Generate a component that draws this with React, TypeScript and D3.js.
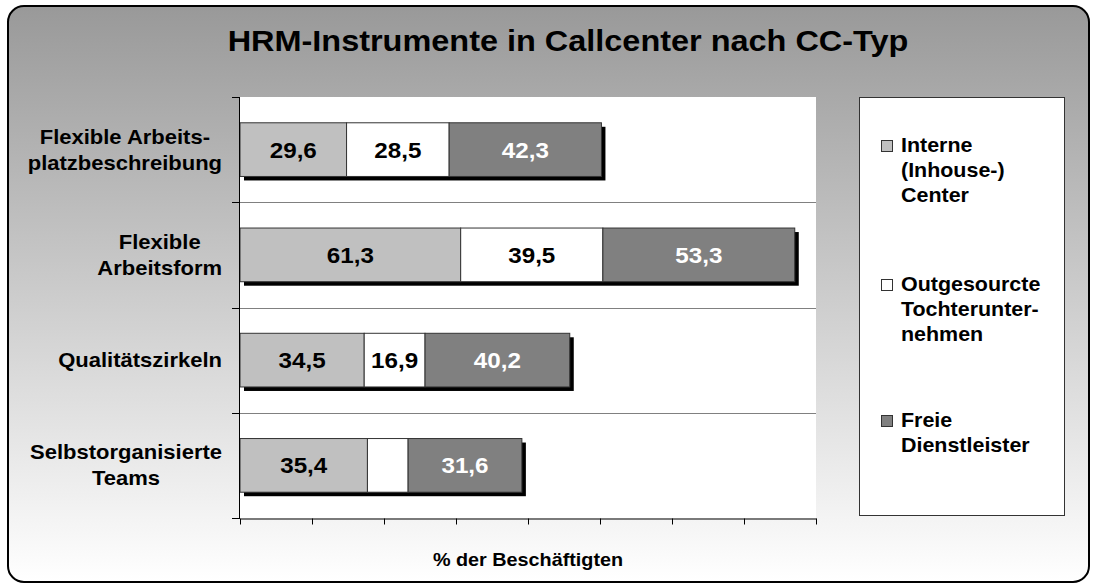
import * as d3 from "d3";
import { useEffect, useRef } from "react";

const title = "HRM-Instrumente in Callcenter nach CC-Typ";
const axisTitle = "% der Beschäftigten";

const categories = [
  "Flexible Arbeitsplatzbeschreibung",
  "Flexible Arbeitsform",
  "Qualitätszirkeln",
  "Selbstorganisierte Teams",
];
const categoryLines = [
  ["Flexible Arbeits-", "platzbeschreibung"],
  ["Flexible", "Arbeitsform"],
  ["Qualitätszirkeln"],
  ["Selbstorganisierte", "Teams"],
];

const seriesNames = ["Interne (Inhouse-) Center", "Outgesourcte Tochterunternehmen", "Freie Dienstleister"];
const legendLines = [
  ["Interne", "(Inhouse-)", "Center"],
  ["Outgesourcte", "Tochterunter-", "nehmen"],
  ["Freie", "Dienstleister"],
];

const interne = [29.6, 61.3, 34.5, 35.4];
const outgesourcte = [28.5, 39.5, 16.9, 11.3];
const freie = [42.3, 53.3, 40.2, 31.6];

const xTicks = [0, 20, 40, 60, 80, 100, 120, 140, 160];

const FONT = "'Liberation Sans', Arial, sans-serif";
// the original renders its Arial noticeably wider than true metrics
const SX = 1.1;

type Sel = d3.Selection<any, any, any, any>;

function addText(parent: Sel, x: number, y: number, str: string, size: number, anchor = "start", fill = "#000") {
  return parent
    .append("text")
    .attr("transform", `translate(${x},${y}) scale(${SX},1)`)
    .attr("text-anchor", anchor)
    .attr("fill", fill)
    .style("font-family", FONT)
    .style("font-weight", "bold")
    .style("font-size", `${size}px`)
    .text(str);
}

function textW(t: Sel) {
  return (t.node() as SVGTextElement).getComputedTextLength() * SX;
}

export default function App() {
  const ref = useRef<SVGSVGElement | null>(null);

  useEffect(() => {
    if (!ref.current) return;
    const plot = { left: 240, right: 816, top: 97, bottom: 518 };
    const fills = ["#C0C0C0", "#FFFFFF", "#808080"];
    const labelFills = ["#000", "#000", "#fff"];

    const rows = categories.map((c, i) => ({
      cat: c,
      [seriesNames[0]]: interne[i],
      [seriesNames[1]]: outgesourcte[i],
      [seriesNames[2]]: freie[i],
    })) as any[];

    const stacked = d3.stack<any>().keys(seriesNames)(rows);

    const x = d3.scaleLinear().domain([0, 160]).range([plot.left, plot.right]);
    const y = d3
      .scaleBand<string>()
      .domain(categories)
      .range([plot.top, plot.bottom])
      .paddingInner(0.49)
      .paddingOuter(0.245);
    const bw = y.bandwidth();
    const gap = (y.step() - bw) / 2;

    const svg = d3.select(ref.current);
    svg.selectAll("*").remove();

    const grad = svg
      .append("defs")
      .append("linearGradient")
      .attr("id", "bg")
      .attr("x1", 0)
      .attr("y1", 0)
      .attr("x2", 0)
      .attr("y2", 1);
    grad.append("stop").attr("offset", "0%").attr("stop-color", "#999999");
    grad.append("stop").attr("offset", "100%").attr("stop-color", "#FFFFFF");

    svg
      .append("rect")
      .attr("x", 8)
      .attr("y", 6)
      .attr("width", 1081)
      .attr("height", 576)
      .attr("rx", 16)
      .attr("fill", "url(#bg)")
      .attr("stroke", "#000")
      .attr("stroke-width", 2);

    addText(svg, 568, 51, title, 29.5, "middle");

    // plot area
    svg
      .append("rect")
      .attr("x", plot.left)
      .attr("y", plot.top)
      .attr("width", plot.right - plot.left)
      .attr("height", plot.bottom - plot.top)
      .attr("fill", "#fff");

    const bounds = categories.map((c) => (y(c) as number) - gap).concat([plot.bottom]);

    svg
      .append("g")
      .selectAll("line")
      .data(bounds.slice(1, -1))
      .join("line")
      .attr("x1", plot.left)
      .attr("x2", plot.right)
      .attr("y1", (d) => Math.round(d) + 0.5)
      .attr("y2", (d) => Math.round(d) + 0.5)
      .attr("stroke", "#808080");

    // bar shadows
    const totals = categories.map((_, i) => interne[i] + outgesourcte[i] + freie[i]);
    svg
      .append("g")
      .selectAll("rect")
      .data(categories)
      .join("rect")
      .attr("x", x(0) + 4)
      .attr("y", (d) => (y(d) as number) + 4)
      .attr("width", (_, i) => x(totals[i]) - x(0))
      .attr("height", bw)
      .attr("fill", "#000");

    stacked.forEach((layer, si) => {
      const g = svg.append("g");
      g.selectAll("rect")
        .data(layer)
        .join("rect")
        .attr("x", (d) => x(d[0]))
        .attr("y", (d) => y(d.data.cat) as number)
        .attr("width", (d) => x(d[1]) - x(d[0]))
        .attr("height", bw)
        .attr("fill", fills[si])
        .attr("stroke", "#333")
        .attr("stroke-width", 1);

      layer.forEach((d) => {
        const v = d[1] - d[0];
        const t = addText(
          g,
          (x(d[0]) + x(d[1])) / 2,
          (y(d.data.cat) as number) + bw / 2 + 8,
          v.toFixed(1).replace(".", ","),
          22,
          "middle",
          labelFills[si]
        );
        // label dropped when it does not fit its segment
        if (textW(t) + 2 > x(d[1]) - x(d[0])) t.remove();
      });
    });

    // y axis
    svg
      .append("line")
      .attr("x1", plot.left - 0.5)
      .attr("x2", plot.left - 0.5)
      .attr("y1", plot.top)
      .attr("y2", plot.bottom)
      .attr("stroke", "#000");
    svg
      .append("g")
      .selectAll("line")
      .data(bounds)
      .join("line")
      .attr("x1", plot.left - 8)
      .attr("x2", plot.left)
      .attr("y1", (d) => Math.round(d) + 0.5)
      .attr("y2", (d) => Math.round(d) + 0.5)
      .attr("stroke", "#000");

    // x axis
    const xAxis = svg
      .append("g")
      .attr("transform", `translate(0,${plot.bottom + 0.5})`)
      .call(
        d3
          .axisBottom(x)
          .tickValues(xTicks)
          .tickSize(6)
          .tickSizeOuter(0)
          .tickFormat(() => "")
      );
    xAxis.selectAll(".domain, .tick line").attr("stroke", "#000");

    // category labels: lines centred on each other, block right-aligned
    categoryLines.forEach((lines, i) => {
      const cy = (y(categories[i]) as number) + bw / 2;
      const lh = 26;
      const g = svg.append("g");
      const yy = lines.map((_, li) => cy - ((lines.length - 1) * lh) / 2 + li * lh + 7);
      const probe = lines.map((l) => addText(g, 0, 0, l, 20, "middle"));
      const maxW = d3.max(probe, textW) ?? 0;
      probe.forEach((t) => t.remove());
      lines.forEach((l, li) => addText(g, 222 - maxW / 2, yy[li], l, 20, "middle"));
    });

    addText(svg, 528, 566, axisTitle, 18, "middle");

    // legend
    svg
      .append("rect")
      .attr("x", 859.5)
      .attr("y", 97.5)
      .attr("width", 205)
      .attr("height", 418)
      .attr("fill", "#fff")
      .attr("stroke", "#333");

    const itemBase = [152, 291, 427];
    legendLines.forEach((lines, i) => {
      const g = svg.append("g");
      g.append("rect")
        .attr("x", 881.5)
        .attr("y", itemBase[i] - 11.5)
        .attr("width", 11)
        .attr("height", 11)
        .attr("fill", fills[i])
        .attr("stroke", "#333");
      lines.forEach((l, li) => addText(g, 901, itemBase[i] + li * 25, l, 19.5));
    });
  }, []);

  return (
    <svg
      ref={ref}
      width={1097}
      height={585}
      style={{ position: "absolute", left: 0, top: 0, display: "block" }}
      role="img"
      aria-label="HRM-Instrumente in Callcenter nach CC-Typ"
    />
  );
}
